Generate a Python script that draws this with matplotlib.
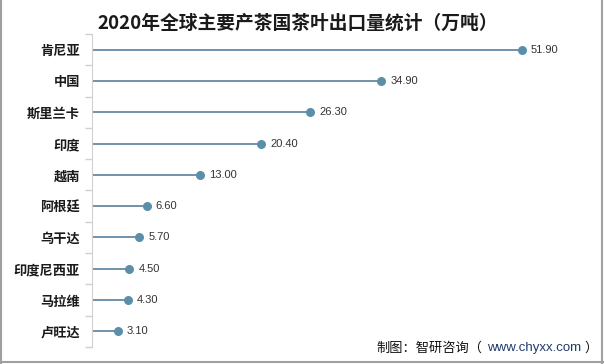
import matplotlib
matplotlib.use("Agg")
import matplotlib.pyplot as plt
from matplotlib.lines import Line2D

plt.rcParams['font.family'] = ['Noto Sans CJK SC', 'DejaVu Sans']

countries = ["肯尼亚", "中国", "斯里兰卡", "印度", "越南", "阿根廷", "乌干达", "印度尼西亚", "马拉维", "卢旺达"]
values = [51.90, 34.90, 26.30, 20.40, 13.00, 6.60, 5.70, 4.50, 4.30, 3.10]
title = "2020年全球主要产茶国茶叶出口量统计（万吨）"

W, H = 605, 364
fig = plt.figure(figsize=(W/100, H/100), dpi=100)
ax = fig.add_axes([92/W, 1-347/H, (589-92)/W, (347-34)/H])

ypos = list(range(len(countries)))
ax.hlines(ypos, 0, values, color="#4a7394", lw=1.1)
ax.scatter(values, ypos, s=30, color="#5b8fa9", zorder=3)
for y, v in zip(ypos, values):
    ax.text(v + 1.1, y, f"{v:.2f}", va="center", ha="left", fontsize=8,
            family=["Liberation Sans", "DejaVu Sans"], color="#333333")

ax.set_xlim(0, 60)
ax.set_ylim(len(countries) - 0.5, -0.5)
ax.set_yticks(ypos)
ax.set_yticklabels(countries, fontsize=9.5, fontweight="bold", color="#1a1a1a")
ax.set_yticks([i - 0.5 for i in range(len(countries) + 1)], minor=True)
ax.tick_params(axis="y", which="major", length=0, pad=8.6)
ax.tick_params(axis="y", which="minor", length=5, color="#d0d0d0", width=1)
ax.set_xticks([])
for s in ["top", "right", "bottom"]:
    ax.spines[s].set_visible(False)
ax.spines["left"].set_color("#d0d0d0")

fig.text(298/W, 1-23/H, title, ha="center", va="center", fontsize=13.5,
         fontweight="bold", color="#1a1a1a")

ys = 1-348/H
fig.text(376/W, ys, "制图：智研咨询（", ha="left", va="center", fontsize=9.5, color="#111111")
fig.text(487/W, ys, "www.chyxx.com", ha="left", va="center", fontsize=9.5,
         family=["Liberation Sans", "DejaVu Sans"], color="#1f3a6b")
fig.text(584/W, ys, "）", ha="left", va="center", fontsize=9.5, color="#111111")

border = dict(transform=fig.transFigure, color="#a0a0a0", lw=1.5)
fig.add_artist(Line2D([1/W, 1/W], [0, 1], **border))
fig.add_artist(Line2D([602/W, 602/W], [0, 1], **border))
fig.add_artist(Line2D([0, 603/W], [1-362/H, 1-362/H], **border))

fig.savefig("out.png", dpi=100)
